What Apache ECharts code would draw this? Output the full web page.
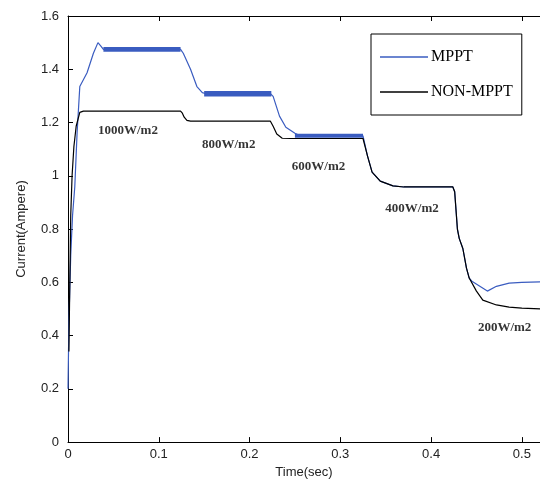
<!DOCTYPE html>
<html>
<head>
<meta charset="utf-8">
<script src="https://cdn.jsdelivr.net/npm/echarts@6/dist/echarts.min.js"></script>
<style>
    html, body { margin: 0; padding: 0; background: #fff; }
    #chart { width: 540px; height: 484px; }
</style>
</head>
<body>
<div id="chart"></div>
<script>
// MPPT current (blue)
var mpptTime = [0, 0.001, 0.003, 0.005, 0.0075, 0.01, 0.013, 0.021, 0.028, 0.033, 0.036, 0.039,
    0.124, 0.127, 0.135, 0.142, 0.148, 0.152,
    0.223, 0.226, 0.233, 0.24, 0.25, 0.256,
    0.325, 0.33, 0.335, 0.344, 0.358, 0.37,
    0.424, 0.426, 0.429, 0.431, 0.435, 0.439, 0.442, 0.445, 0.462, 0.472, 0.486, 0.5, 0.52];
var mpptCurrent = [0.2, 0.45, 0.7, 0.85, 0.96, 1.16, 1.335, 1.387, 1.46, 1.5, 1.488, 1.475,
    1.475, 1.46, 1.4, 1.335, 1.312, 1.308,
    1.308, 1.298, 1.224, 1.182, 1.16, 1.15,
    1.15, 1.074, 1.014, 0.98, 0.962, 0.958,
    0.958, 0.94, 0.8, 0.765, 0.727, 0.653, 0.616, 0.604, 0.567, 0.585, 0.597, 0.6, 0.602];

// ripple band of the MPPT current on each plateau: [start, end, low, high]
var rippleBands = [
    [0.039, 0.124, 1.466, 1.484],
    [0.15, 0.224, 1.298, 1.318],
    [0.25, 0.325, 1.143, 1.158]
];

// NON-MPPT current (black)
var nonTime = [0.001, 0.002, 0.003, 0.0045, 0.0065, 0.009, 0.013, 0.017,
    0.124, 0.126, 0.128, 0.131, 0.135,
    0.223, 0.226, 0.23, 0.236, 0.245,
    0.325, 0.33, 0.335, 0.344, 0.358, 0.37,
    0.424, 0.426, 0.429, 0.431, 0.435, 0.439, 0.442, 0.45, 0.457, 0.472, 0.486, 0.5, 0.52];
var nonCurrent = [0.34, 0.6, 0.85, 1.0, 1.11, 1.186, 1.238, 1.243,
    1.243, 1.235, 1.22, 1.208, 1.205,
    1.205, 1.186, 1.157, 1.141, 1.14,
    1.14, 1.074, 1.014, 0.98, 0.962, 0.958,
    0.958, 0.94, 0.8, 0.765, 0.727, 0.653, 0.616, 0.567, 0.533, 0.515, 0.507, 0.503, 0.5];

// irradiance labels
var irrLabels = ['1000W/m2', '800W/m2', '600W/m2', '400W/m2', '200W/m2'];
var irrTime = [0.066, 0.177, 0.276, 0.379, 0.481];
var irrCurrent = [1.169, 1.117, 1.033, 0.878, 0.43];

function zip(xs, ys) {
    var out = [];
    for (var i = 0; i < xs.length; i++) out.push([xs[i], ys[i]]);
    return out;
}

var blue = '#3a5cc0';
var chart = echarts.init(document.getElementById('chart'));
var tickFont = { color: '#222', fontSize: 13, fontFamily: 'Liberation Sans' };

var option = {
    animation: false,
    grid: { left: 68, right: 0, top: 16, bottom: 40 },
    legend: {
        left: 371, top: 34,
        orient: 'vertical',
        data: ['MPPT', 'NON-MPPT'],
        icon: 'rect',
        backgroundColor: '#fff',
        borderColor: '#000',
        borderWidth: 1,
        padding: [15, 9, 15, 9],
        itemWidth: 48,
        itemHeight: 1.3,
        itemGap: 19,
        textStyle: { fontFamily: 'Liberation Serif', fontSize: 16, lineHeight: 16, color: '#000', padding: [0, 0, 0, -2] }
    },
    xAxis: [{
        type: 'value', min: 0, max: 0.52, interval: 0.1,
        name: 'Time(sec)', nameLocation: 'middle', nameGap: 18,
        nameTextStyle: { fontFamily: 'Liberation Sans', fontSize: 13, color: '#222', verticalAlign: 'top' },
        axisLine: { lineStyle: { color: '#000', width: 1 } },
        axisTick: { inside: true, length: 5, lineStyle: { color: '#000' } },
        axisLabel: Object.assign({ margin: 6, showMaxLabel: false }, tickFont),
        splitLine: { show: false }
    }, {
        type: 'value', min: 0, max: 0.52, interval: 0.1, position: 'top',
        axisLine: { lineStyle: { color: '#000', width: 1 } },
        axisTick: { inside: true, length: 5, lineStyle: { color: '#000' } },
        axisLabel: { show: false },
        splitLine: { show: false }
    }],
    yAxis: {
        type: 'value', min: 0, max: 1.6, interval: 0.2,
        name: 'Current(Ampere)', nameLocation: 'middle', nameGap: 40,
        nameTextStyle: { fontFamily: 'Liberation Sans', fontSize: 13, color: '#222' },
        axisLine: { show: true, lineStyle: { color: '#000', width: 1 } },
        axisTick: { show: true, inside: true, length: 5, lineStyle: { color: '#000' } },
        axisLabel: Object.assign({ margin: 9 }, tickFont),
        splitLine: { show: false }
    },
    series: [
        {
            name: 'MPPT ripple',
            type: 'custom',
            data: rippleBands,
            silent: true,
            z: 2,
            renderItem: function (params, api) {
                var p0 = api.coord([api.value(0), api.value(3)]);
                var p1 = api.coord([api.value(1), api.value(2)]);
                return {
                    type: 'rect',
                    shape: { x: p0[0], y: p0[1], width: p1[0] - p0[0], height: p1[1] - p0[1] },
                    style: { fill: blue }
                };
            }
        },
        {
            name: 'MPPT',
            type: 'line',
            data: zip(mpptTime, mpptCurrent),
            symbol: 'none',
            z: 3,
            lineStyle: { color: blue, width: 1.2 },
            itemStyle: { color: blue }
        },
        {
            name: 'NON-MPPT',
            type: 'line',
            data: zip(nonTime, nonCurrent),
            symbol: 'none',
            z: 4,
            lineStyle: { color: '#000', width: 1.2 },
            itemStyle: { color: '#000' }
        },
        {
            name: 'irradiance',
            type: 'scatter',
            symbolSize: 0,
            silent: true,
            z: 5,
            data: irrLabels.map(function (t, i) {
                return { name: t, value: [irrTime[i], irrCurrent[i]] };
            }),
            label: {
                show: true,
                position: 'inside',
                formatter: '{b}',
                fontFamily: 'Liberation Serif',
                fontWeight: 'bold',
                fontSize: 13,
                color: '#000'
            }
        }
    ]
};
chart.setOption(option);
</script>
</body>
</html>
